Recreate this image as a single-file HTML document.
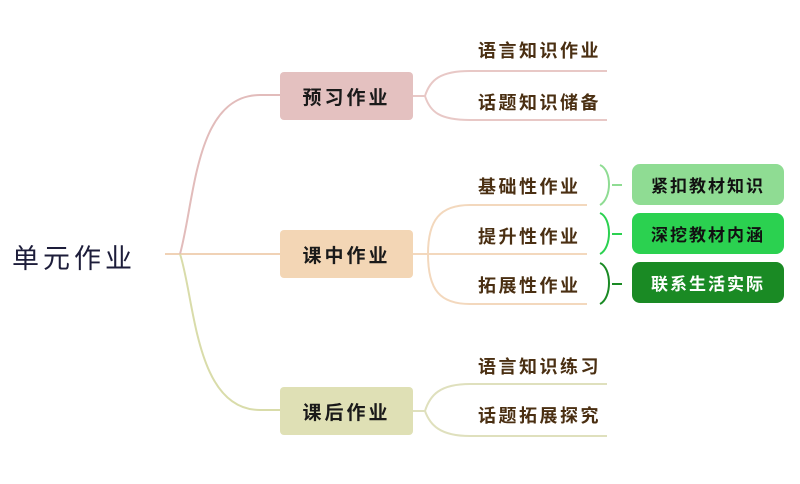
<!DOCTYPE html>
<html><head><meta charset="utf-8"><style>
body{margin:0;width:800px;height:484px;background:#fff;overflow:hidden;position:relative;font-family:"Liberation Sans","Noto Sans CJK SC",sans-serif}
.t{position:absolute;font-size:18px;color:#4a2f12;letter-spacing:2.5px;font-weight:bold;white-space:nowrap}
.b{position:absolute;width:133px;height:48px;display:flex;align-items:center;justify-content:center;font-size:19px;font-weight:bold;color:#1a1a1a;letter-spacing:3px;border-radius:4px}
.g{position:absolute;left:632px;width:152px;height:41px;border-radius:8px;display:flex;align-items:center;justify-content:center;font-size:17px;font-weight:bold;letter-spacing:2px;color:#111}
</style></head><body>
<svg width="800" height="484" style="position:absolute;left:0;top:0" fill="none" stroke-width="2">
<path d="M165 254 H280" stroke="#f0d2b6"/>
<path d="M180 254 C195 200,195 95,260 95 H280" stroke="#e2bcbb"/>
<path d="M180 254 C195 300,195 410,260 410 H280" stroke="#d9dcaa"/>
<path d="M413 96 H425 C430 80,440 71,470 71 H607 M425 96 C430 112,440 120,470 120 H607" stroke="#e8c8c6"/>
<path d="M413 254 H428 M428 254 C428 220,440 205,470 205 H587 M428 254 H587 M428 254 C428 290,440 304,470 304 H587" stroke="#f3d8bd"/>
<path d="M413 411 H425 C430 395,440 384,470 384 H607 M425 411 C430 425,440 436,470 436 H607" stroke="#dfe0bd"/>
<path d="M600 165 C612 170,612 198,600 205 M612 185 H622" stroke="#8fdc93"/>
<path d="M600 213 C612 218,612 248,600 254 M612 234 H622" stroke="#2bd150"/>
<path d="M600 263 C612 268,612 298,600 304 M612 284 H622" stroke="#1a8a24"/>
</svg>
<div style="position:absolute;left:12px;top:237px;font-size:27px;color:#1d1d3a;letter-spacing:4px">单元作业</div>
<div class="b" style="left:280px;top:72px;background:#e4c1c0">预习作业</div>
<div class="b" style="left:280px;top:230px;background:#f3d6b5">课中作业</div>
<div class="b" style="left:280px;top:387px;background:#dfe0b5">课后作业</div>
<div class="t" style="left:478px;top:37px">语言知识作业</div>
<div class="t" style="left:478px;top:89px">话题知识储备</div>
<div class="t" style="left:478px;top:173px">基础性作业</div>
<div class="t" style="left:478px;top:223px">提升性作业</div>
<div class="t" style="left:478px;top:272px">拓展性作业</div>
<div class="t" style="left:478px;top:353px">语言知识练习</div>
<div class="t" style="left:478px;top:402px">话题拓展探究</div>
<div class="g" style="top:164px;background:#8fdc93">紧扣教材知识</div>
<div class="g" style="top:213px;background:#2bd150">深挖教材内涵</div>
<div class="g" style="top:262px;background:#1a8a24;color:#fff">联系生活实际</div>
</body></html>
